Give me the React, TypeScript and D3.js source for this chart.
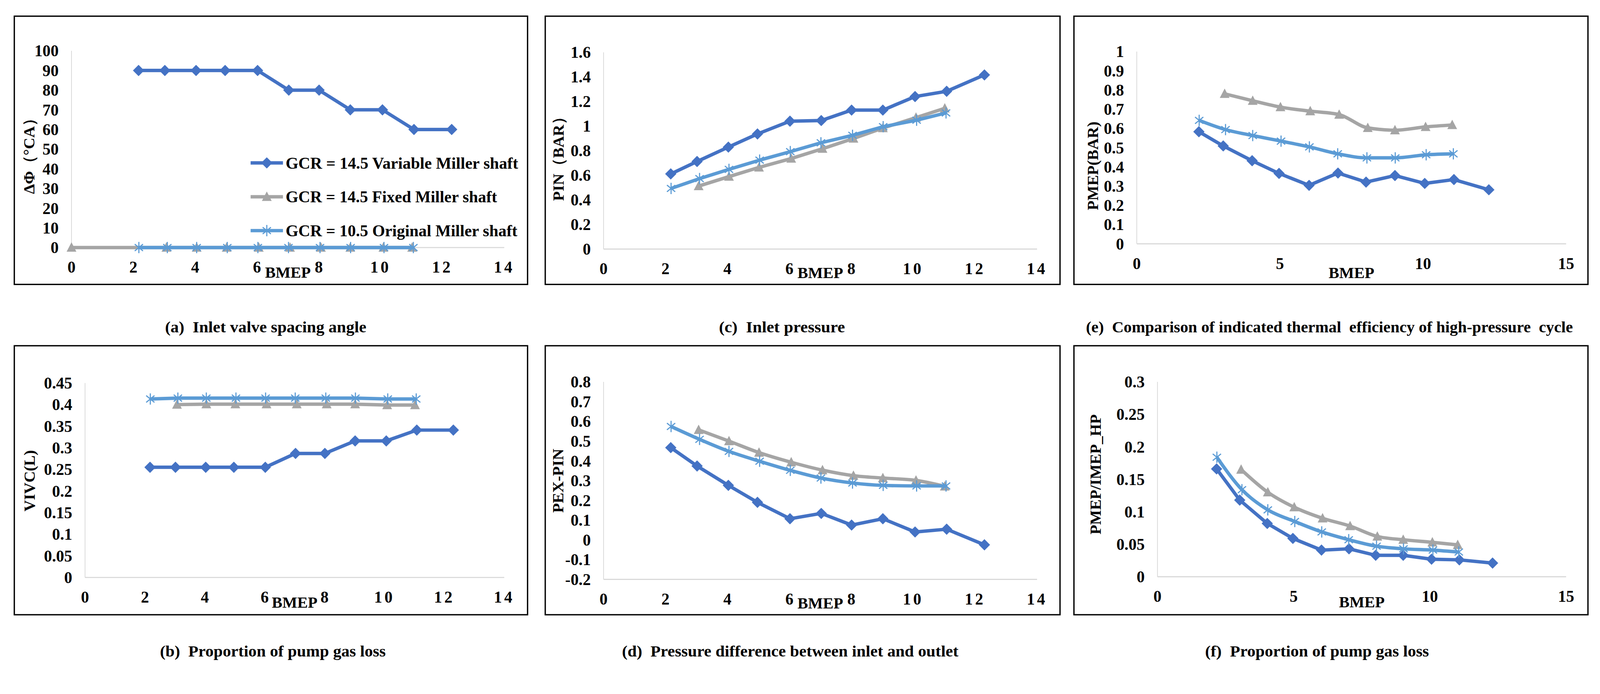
import * as d3 from "d3";

// BMEP operating points of each series
const bmepVariable = [2.17, 3.02, 4.03, 4.97, 6.02, 7.03, 8.01, 9.02, 10.06, 11.08, 12.3];
const bmepFixed = [3.07, 4.05, 5.02, 6.06, 7.07, 8.07, 9.02, 10.09, 11.02];
const bmepFixedAngle = [0, 3.07, 4.05, 5.02, 6.06, 7.07, 8.07, 9.02, 10.09, 11.02];
const bmepOriginal = [2.18, 3.1, 4.05, 5.04, 6.03, 7.02, 8.04, 9.03, 10.11, 11.06];

const seriesNames = [
  "GCR = 14.5 Variable Miller shaft",
  "GCR = 14.5 Fixed Miller shaft",
  "GCR = 10.5 Original Miller shaft",
];

// (a) inlet valve spacing angle
const angleVariable = [90, 90, 90, 90, 90, 80, 80, 70, 70, 60, 60];
const angleFixed = [0, 0, 0, 0, 0, 0, 0, 0, 0, 0];
const angleOriginal = [0, 0, 0, 0, 0, 0, 0, 0, 0, 0];

// (b) VIVC
const vivcVariable = [0.255, 0.255, 0.255, 0.255, 0.255, 0.287, 0.287, 0.316, 0.316, 0.341, 0.341];
const vivcFixed = [0.4, 0.401, 0.401, 0.401, 0.401, 0.401, 0.401, 0.399, 0.399];
const vivcOriginal = [0.413, 0.415, 0.415, 0.415, 0.415, 0.415, 0.415, 0.415, 0.413, 0.413];

// (c) inlet pressure
const pinVariable = [0.611, 0.712, 0.829, 0.936, 1.04, 1.045, 1.13, 1.13, 1.24, 1.283, 1.416];
const pinFixed = [0.512, 0.589, 0.664, 0.736, 0.816, 0.899, 0.984, 1.069, 1.144];
const pinOriginal = [0.493, 0.573, 0.648, 0.723, 0.792, 0.864, 0.925, 0.995, 1.048, 1.107];

// (d) PEX - PIN
const dpVariable = [0.467, 0.374, 0.276, 0.19, 0.107, 0.134, 0.075, 0.107, 0.04, 0.054, -0.025];
const dpFixed = [0.557, 0.5, 0.442, 0.393, 0.353, 0.325, 0.313, 0.301, 0.271];
const dpOriginal = [0.574, 0.509, 0.448, 0.398, 0.352, 0.313, 0.288, 0.276, 0.273, 0.273];

// (e) PMEP
const pmepVariable = [0.583, 0.509, 0.432, 0.366, 0.304, 0.368, 0.321, 0.355, 0.314, 0.334, 0.281];
const pmepFixed = [0.78, 0.744, 0.711, 0.69, 0.672, 0.603, 0.591, 0.608, 0.618];
const pmepOriginal = [0.642, 0.594, 0.563, 0.534, 0.504, 0.468, 0.447, 0.447, 0.463, 0.468];

// (f) PMEP / IMEP_HP
const ratioVariable = [0.166, 0.118, 0.082, 0.059, 0.041, 0.043, 0.033, 0.033, 0.027, 0.026, 0.021];
const ratioFixed = [0.165, 0.13, 0.107, 0.09, 0.078, 0.062, 0.057, 0.053, 0.049];
const ratioOriginal = [0.184, 0.134, 0.103, 0.085, 0.069, 0.057, 0.047, 0.043, 0.041, 0.038];

const BLUE = "#4472C4";
const GRAY = "#A5A5A5";
const LIGHT = "#5B9BD5";
const AXIS = "#D9D9D9";
const FONT = "'Liberation Serif', 'Times New Roman', serif";
const W = 4252;
const H = 1777;

type Pt = { x: number; y: number };
const zip = (xs: number[], ys: number[]): Pt[] => xs.map((x, i) => ({ x, y: ys[i] }));
const fmt = (v: number) => String(+v.toFixed(3));

function Diamond({ x, y }: { x: number; y: number }) {
  return <path d="M0,-15L15,0L0,15L-15,0Z" transform={`translate(${x},${y})`} fill={BLUE} />;
}
function Triangle({ x, y }: { x: number; y: number }) {
  return <path d="M0,-14L13,11L-13,11Z" transform={`translate(${x},${y})`} fill={GRAY} />;
}
function Star({ x, y }: { x: number; y: number }) {
  return (
    <path
      d="M0,-15L0,15M-11,-9L11,9M-11,9L11,-9"
      transform={`translate(${x},${y})`}
      stroke={LIGHT}
      strokeWidth={3}
      fill="none"
    />
  );
}

type PanelProps = {
  frame: [number, number, number, number];
  xPx: [number, number];
  yPx: [number, number];
  xMax: number;
  xStep: number;
  yMin: number;
  yMax: number;
  yStep: number;
  yLabel: string;
  yLabelPos: [number, number];
  bmepDy: number;
  smooth: boolean;
  variable: Pt[];
  fixed: Pt[];
  original: Pt[];
  legend?: boolean;
};

function Panel(p: PanelProps) {
  const [fx0, fy0, fx1, fy1] = p.frame;
  const x = d3.scaleLinear().domain([0, p.xMax]).range(p.xPx);
  const y = d3.scaleLinear().domain([p.yMin, p.yMax]).range(p.yPx);
  const nY = Math.round((p.yMax - p.yMin) / p.yStep);
  const yTicks = d3.range(nY + 1).map((i) => p.yMin + i * p.yStep);
  const xTicks = d3.range(0, p.xMax + 0.001, p.xStep);
  const straight = d3.line<Pt>().x((d) => x(d.x)).y((d) => y(d.y));
  const curved = d3
    .line<Pt>()
    .x((d) => x(d.x))
    .y((d) => y(d.y))
    .curve(d3.curveMonotoneX);
  const soft = p.smooth ? curved : straight;
  const base = y(p.yMin);
  const wide = p.xStep === 2;

  return (
    <g fontFamily={FONT} fontWeight="bold">
      <rect x={fx0} y={fy0} width={fx1 - fx0} height={fy1 - fy0} fill="#fff" stroke="#000" strokeWidth={3.5} />
      <line x1={x(0)} x2={x(0)} y1={y(p.yMax)} y2={base} stroke={AXIS} strokeWidth={2} />
      <line x1={x(0)} x2={x(p.xMax)} y1={base} y2={base} stroke={AXIS} strokeWidth={3} />
      {yTicks.map((t) => (
        <text key={t} x={x(0) - 34} y={y(t) + 15} textAnchor="end" fontSize={43}>
          {fmt(t)}
        </text>
      ))}
      {xTicks.map((t) => (
        <text
          key={t}
          x={x(t)}
          y={base + 67}
          textAnchor="middle"
          fontSize={43}
          letterSpacing={wide && t >= 10 ? 6 : 0}
        >
          {fmt(t)}
        </text>
      ))}
      <text x={x(p.xMax / 2)} y={base + p.bmepDy} textAnchor="middle" fontSize={42}>
        BMEP
      </text>
      <text
        transform={`translate(${p.yLabelPos[0]},${p.yLabelPos[1]}) rotate(-90)`}
        textAnchor="middle"
        dominantBaseline="central"
        fontSize={42}
      >
        {p.yLabel}
      </text>

      <path d={straight(p.variable) ?? ""} fill="none" stroke={BLUE} strokeWidth={9} strokeLinejoin="round" />
      {p.variable.map((d, i) => (
        <Diamond key={i} x={x(d.x)} y={y(d.y)} />
      ))}
      <path d={soft(p.fixed) ?? ""} fill="none" stroke={GRAY} strokeWidth={9} strokeLinejoin="round" />
      {p.fixed.map((d, i) => (
        <Triangle key={i} x={x(d.x)} y={y(d.y)} />
      ))}
      <path d={soft(p.original) ?? ""} fill="none" stroke={LIGHT} strokeWidth={9} strokeLinejoin="round" />
      {p.original.map((d, i) => (
        <Star key={i} x={x(d.x)} y={y(d.y)} />
      ))}

      {p.legend &&
        seriesNames.map((name, i) => {
          const ly = 433 + i * 90;
          const color = [BLUE, GRAY, LIGHT][i];
          const len = [618, 562, 616][i];
          return (
            <g key={name}>
              <line x1={666} x2={752} y1={ly} y2={ly} stroke={color} strokeWidth={9} />
              {i === 0 && <Diamond x={709} y={ly} />}
              {i === 1 && <Triangle x={709} y={ly} />}
              {i === 2 && <Star x={709} y={ly} />}
              <text x={759} y={ly + 15} fontSize={44} textLength={len} lengthAdjust="spacingAndGlyphs">
                {name}
              </text>
            </g>
          );
        })}
    </g>
  );
}

const captions = [
  { text: "(a)  Inlet valve spacing angle", x: 706, y: 883, len: 535 },
  { text: "(c)  Inlet pressure", x: 2078, y: 883, len: 335 },
  { text: "(e)  Comparison of indicated thermal  efficiency of high-pressure  cycle", x: 3533, y: 883, len: 1294 },
  { text: "(b)  Proportion of pump gas loss", x: 725, y: 1745, len: 600 },
  { text: "(d)  Pressure difference between inlet and outlet", x: 2100, y: 1745, len: 894 },
  { text: "(f)  Proportion of pump gas loss", x: 3500, y: 1745, len: 595 },
];

export default function App() {
  return (
    <svg
      viewBox={`0 0 ${W} ${H}`}
      width="100%"
      style={{ position: "absolute", left: 0, top: 0, display: "block", background: "#fff" }}
    >
      <rect width={W} height={H} fill="#fff" />
      <Panel
        frame={[38, 43, 1402, 756]}
        xPx={[190, 1340]}
        yPx={[658, 135]}
        xMax={14}
        xStep={2}
        yMin={0}
        yMax={100}
        yStep={10}
        yLabel="ΔΦ（°CA）"
        yLabelPos={[77, 405]}
        bmepDy={80}
        smooth={false}
        variable={zip(bmepVariable, angleVariable)}
        fixed={zip(bmepFixedAngle, angleFixed)}
        original={zip(bmepOriginal, angleOriginal)}
        legend
      />
      <Panel
        frame={[1449, 43, 2817, 756]}
        xPx={[1604, 2756]}
        yPx={[662, 139]}
        xMax={14}
        xStep={2}
        yMin={0}
        yMax={1.6}
        yStep={0.2}
        yLabel="PIN（BAR）"
        yLabelPos={[1484, 412]}
        bmepDy={77}
        smooth={false}
        variable={zip(bmepVariable, pinVariable)}
        fixed={zip(bmepFixed, pinFixed)}
        original={zip(bmepOriginal, pinOriginal)}
      />
      <Panel
        frame={[2854, 43, 4220, 756]}
        xPx={[3021, 4162]}
        yPx={[648, 137]}
        xMax={15}
        xStep={5}
        yMin={0}
        yMax={1}
        yStep={0.1}
        yLabel="PMEP(BAR)"
        yLabelPos={[2904, 441]}
        bmepDy={91}
        smooth
        variable={zip(bmepVariable, pmepVariable)}
        fixed={zip(bmepFixed, pmepFixed)}
        original={zip(bmepOriginal, pmepOriginal)}
      />
      <Panel
        frame={[38, 919, 1402, 1634]}
        xPx={[226, 1340]}
        yPx={[1535, 1018]}
        xMax={14}
        xStep={2}
        yMin={0}
        yMax={0.45}
        yStep={0.05}
        yLabel="VIVC(L)"
        yLabelPos={[78, 1278]}
        bmepDy={80}
        smooth={false}
        variable={zip(bmepVariable, vivcVariable)}
        fixed={zip(bmepFixed, vivcFixed)}
        original={zip(bmepOriginal, vivcOriginal)}
      />
      <Panel
        frame={[1449, 919, 2817, 1634]}
        xPx={[1604, 2756]}
        yPx={[1540, 1015]}
        xMax={14}
        xStep={2}
        yMin={-0.2}
        yMax={0.8}
        yStep={0.1}
        yLabel="PEX-PIN"
        yLabelPos={[1483, 1278]}
        bmepDy={77}
        smooth
        variable={zip(bmepVariable, dpVariable)}
        fixed={zip(bmepFixed, dpFixed)}
        original={zip(bmepOriginal, dpOriginal)}
      />
      <Panel
        frame={[2854, 919, 4220, 1634]}
        xPx={[3076, 4162]}
        yPx={[1533, 1015]}
        xMax={15}
        xStep={5}
        yMin={0}
        yMax={0.3}
        yStep={0.05}
        yLabel="PMEP/IMEP_HP"
        yLabelPos={[2911, 1261]}
        bmepDy={81}
        smooth
        variable={zip(bmepVariable, ratioVariable)}
        fixed={zip(bmepFixed, ratioFixed)}
        original={zip(bmepOriginal, ratioOriginal)}
      />
      {captions.map((c) => (
        <text
          key={c.text}
          x={c.x}
          y={c.y}
          textAnchor="middle"
          fontFamily={FONT}
          fontWeight="bold"
          fontSize={42}
          textLength={c.len}
          lengthAdjust="spacingAndGlyphs"
          style={{ whiteSpace: "pre" }}
        >
          {c.text}
        </text>
      ))}
    </svg>
  );
}
